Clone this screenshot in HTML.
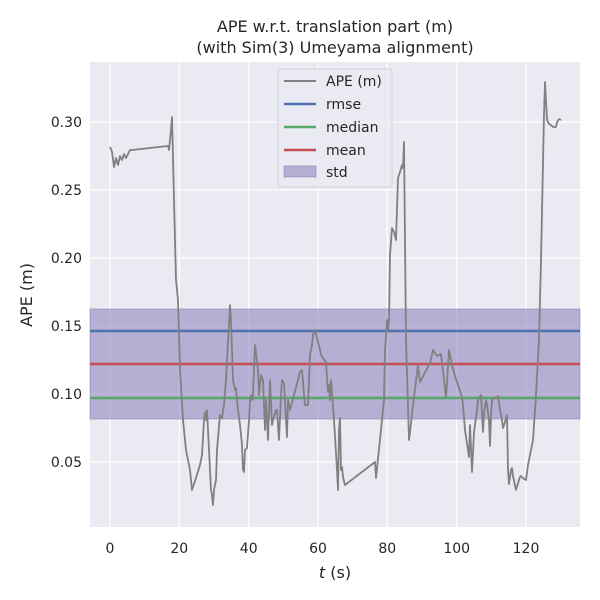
<!DOCTYPE html>
<html><head><meta charset="utf-8"><style>body{margin:0;background:#fff}svg{display:block}text{font-family:"DejaVu Sans","Liberation Sans",sans-serif;fill:#262626}</style></head><body>
<svg width="600" height="600" xmlns="http://www.w3.org/2000/svg">
<rect x="90" y="62" width="490" height="465" fill="#eaeaf2"/>
<g stroke="#fff" stroke-width="1.2">
<line x1="110" y1="62" x2="110" y2="527"/><line x1="179.3" y1="62" x2="179.3" y2="527"/><line x1="248.7" y1="62" x2="248.7" y2="527"/><line x1="318" y1="62" x2="318" y2="527"/><line x1="387.3" y1="62" x2="387.3" y2="527"/><line x1="456.7" y1="62" x2="456.7" y2="527"/><line x1="526" y1="62" x2="526" y2="527"/>
<line x1="90" y1="122" x2="580" y2="122"/><line x1="90" y1="190" x2="580" y2="190"/><line x1="90" y1="258" x2="580" y2="258"/><line x1="90" y1="326" x2="580" y2="326"/><line x1="90" y1="394" x2="580" y2="394"/><line x1="90" y1="462" x2="580" y2="462"/>
</g>
<rect x="90" y="309" width="490" height="110" fill="#8172b3" fill-opacity="0.5" stroke="#8172b3" stroke-opacity="0.5"/>
<line x1="90" y1="331" x2="580" y2="331" stroke="#4c72b0" stroke-width="2.5"/>
<line x1="90" y1="364" x2="580" y2="364" stroke="#c44e52" stroke-width="2.5"/>
<line x1="90" y1="398" x2="580" y2="398" stroke="#55a868" stroke-width="2.5"/>
<polyline fill="none" stroke="#808080" stroke-width="1.8" stroke-linejoin="round" points="110,147 112,152 114,167 116,158 118,165 120,156 122,160 124,154 126,158 128,154 130,150 132,150 168,146 169,150 171,130 172,117 174,200 176,280 178,300 180,370 183,420 186,450 190,470 192,490 196,478 200,465 202,455 204,420 205,412 206,420 207,410 209,450 211,490 212,495 213,505 214,490 216,480 217,450 220,415 222,418 224,405 226,380 230,305 231,320 233,380 235,390 236,388 237,400 238,410 240,425 242,445 243,470 244,472 245,450 247,448 249,420 250,400 251,395 252,400 253,395 255,345 258,370 259,395 261,375 262,378 263,380 265,430 266,400 268,440 270,380 272,425 273,420 276,410 277,410 279,440 281,395 282,380 284,383 286,420 287,437 288,400 290,410 298,380 300,372 302,370 304,395 305,405 308,405 310,355 312,345 313,335 315,330 317,338 318,342 320,350 321,355 323,358 324,360 326,362 327,378 328,392 329,385 330,400 331,380 334,420 337,470 338,490 339,430 340,418 341,470 342,467 343,477 345,485 375,462 376,478 381,430 384,400 385,350 387,320 388,330 389,320 390,255 392,228 394,232 396,240 398,178 400,172 402,165 403,168 404,142 406,340 409,440 410,432 413,405 418,365 419,375 420,382 430,363 433,350 437,356 441,354 444,380 446,398 449,350 452,365 455,376 462,397 463,405 465,430 469,457 470,425 472,472 474,432 477,410 478,400 481,395 483,432 484,412 486,400 487,405 489,420 490,446 491,415 492,400 494,398 497,398 498,396 500,410 502,420 503,428 505,422 507,415 508,470 509,484 511,470 512,468 513,476 516,490 519,480 520,477 521,476 524,479 526,480 528,465 530,455 533,440 536,395 539,340 541,260 544,115 545,82 547,120 549,124 551,125 553,127 556,127 557,122 559,119 561,120"/>
<rect x="278" y="69" width="114" height="118" rx="3" fill="#eaeaf2" fill-opacity="0.8" stroke="#d0d0d8"/>
<g font-size="14">
<line x1="284" y1="81" x2="316" y2="81" stroke="#808080" stroke-width="2"/><text x="326" y="86">APE (m)</text>
<line x1="284" y1="104" x2="316" y2="104" stroke="#4c72b0" stroke-width="2.5"/><text x="326" y="109">rmse</text>
<line x1="284" y1="127" x2="316" y2="127" stroke="#55a868" stroke-width="2.5"/><text x="326" y="132">median</text>
<line x1="284" y1="150" x2="316" y2="150" stroke="#c44e52" stroke-width="2.5"/><text x="326" y="155">mean</text>
<rect x="284" y="166" width="32" height="11" fill="#8172b3" fill-opacity="0.5" stroke="#8172b3" stroke-opacity="0.5"/><text x="326" y="177">std</text>
</g>
<g font-size="14" text-anchor="middle">
<text x="110" y="553">0</text><text x="179.3" y="553">20</text><text x="248.7" y="553">40</text><text x="318" y="553">60</text><text x="387.3" y="553">80</text><text x="456.7" y="553">100</text><text x="526" y="553">120</text>
</g>
<g font-size="14" text-anchor="end">
<text x="82" y="127">0.30</text><text x="82" y="195">0.25</text><text x="82" y="263">0.20</text><text x="82" y="331">0.15</text><text x="82" y="399">0.10</text><text x="82" y="467">0.05</text>
</g>
<text x="335" y="578" font-size="16" text-anchor="middle"><tspan font-style="italic">t</tspan> (s)</text>
<text transform="translate(32,295) rotate(-90)" font-size="16" text-anchor="middle">APE (m)</text>
<text x="335" y="32" font-size="16" text-anchor="middle">APE w.r.t. translation part (m)</text>
<text x="335" y="53" font-size="16" text-anchor="middle">(with Sim(3) Umeyama alignment)</text>
</svg>
</body></html>
